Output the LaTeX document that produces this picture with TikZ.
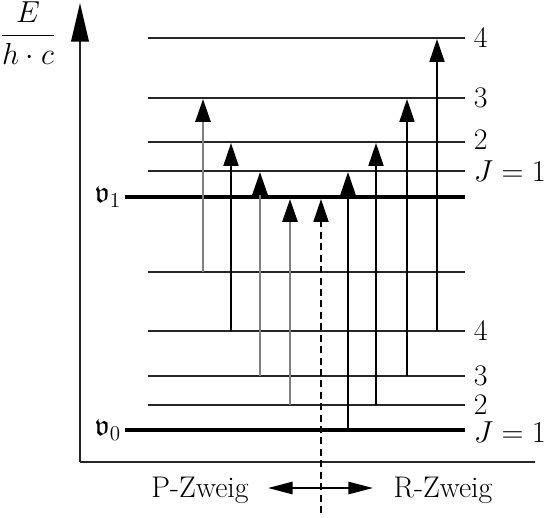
\documentclass[tikz,border=0pt]{standalone}
\usepackage{amsmath}
\usepackage{amssymb}
\usetikzlibrary{arrows.meta}

\begin{document}
\begin{tikzpicture}[
    x=0.02cm, y=-0.02cm,
    every node/.style={font=\fontsize{17}{20}\selectfont, inner sep=2pt},
    level/.style={line width=1.1pt, black!85},
    vlevel/.style={line width=2.4pt},
    trans/.style={line width=1.1pt, -{Triangle[length=13pt, width=8.5pt, color=black]}},
    ptrans/.style={trans, line width=1.6pt, black!50},
    axis/.style={line width=1.1pt, black!85}
]
\useasboundingbox (0,0) rectangle (560,517);

% axes
\coordinate (origin) at (80,462);
\coordinate (ytop) at (80,3);
\coordinate (xend) at (535,462);
\draw[axis, -{Triangle[length=22pt, width=10pt, color=black]}] (origin) -- (ytop);
\draw[axis] (origin) -- (xend);
\node (elabel) at (28,33) {$\dfrac{E}{h\cdot c}$};

% rotational levels of v1 and v0
\foreach \y in {38,98,142,171,272,331,376,405}
    \draw[level] (148,\y) -- (465,\y);
\draw[vlevel] (125,197) -- (465,197);
\draw[vlevel] (125,430) -- (465,430);
\node[anchor=east] (v1) at (125,197) {$\mathfrak{v}_1$};
\node[anchor=east] (v0) at (125,430) {$\mathfrak{v}_0$};

% J labels
\node[anchor=west] (u4) at (470,38) {4};
\node[anchor=west] (u3) at (470,98) {3};
\node[anchor=west] (u2) at (470,140) {2};
\node[anchor=west] (u1) at (470,171) {$J = 1$};
\node[anchor=west] (l4) at (470,331) {4};
\node[anchor=west] (l3) at (470,376) {3};
\node[anchor=west] (l2) at (470,405) {2};
\node[anchor=west] (l1) at (470,432) {$J = 1$};

% transitions
\foreach \x/\ya/\yb/\st in {203/272/99/ptrans, 231/331/143/trans,
        260/376/172/ptrans, 290/405/199/ptrans,
        348/430/172/trans, 376/405/143/trans,
        407/376/99/trans, 437/331/39/trans}
    \draw[\st] (\x,\ya) -- (\x,\yb);
\draw[trans, dash pattern=on 4pt off 2.5pt] (321,513) -- (321,199);

% branches
\node (pz) at (200,490) {P-Zweig};
\node (rz) at (443,490) {R-Zweig};
\coordinate (pl) at (268,488);
\coordinate (pr) at (373,488);
\draw[line width=1pt, {Triangle[length=14pt, width=7pt]}-{Triangle[length=14pt, width=7pt]}] (pl) -- (pr);
\end{tikzpicture}
\end{document}
